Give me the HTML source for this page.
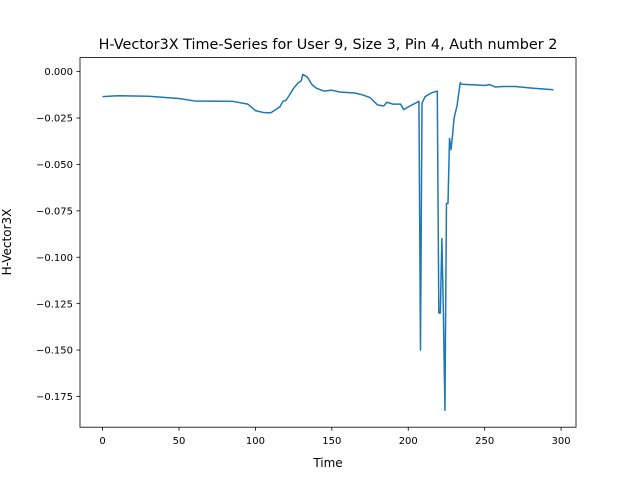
<!DOCTYPE html>
<html><head><meta charset="utf-8"><style>
body{margin:0;background:#fff;}
svg{display:block;font-family:"DejaVu Sans","Liberation Sans",sans-serif;}
</style></head><body>
<svg id="chart" width="640" height="480">
<rect width="640" height="480" fill="#fff"/>
<text x="328" y="49" text-anchor="middle" font-size="14.4">H-Vector3X Time-Series for User 9, Size 3, Pin 4, Auth number 2</text>
<g id="plot"></g>
<text x="328" y="467" text-anchor="middle" font-size="12">Time</text>
<text x="0" y="0" transform="translate(11,242) rotate(-90)" text-anchor="middle" font-size="12">H-Vector3X</text>
</svg>
<script>
const times=[0,10,30,50,60,85,95,100,105,110,116,118,120,122,125,128,130,131,134,137,140,145,150,155,165,170,175,180,184,186,190,195,197,200,207,208,209,211,215,219,220,221,222,223,224,225,226,227,228,229,230,232,234,235,245,250,253,257,262,270,280,295];
const values=[-0.0135,-0.013,-0.0133,-0.0145,-0.0158,-0.016,-0.0175,-0.021,-0.022,-0.0222,-0.019,-0.016,-0.0155,-0.013,-0.009,-0.006,-0.005,-0.0015,-0.003,-0.007,-0.009,-0.0105,-0.01,-0.011,-0.0115,-0.0125,-0.014,-0.018,-0.0185,-0.0165,-0.0175,-0.0175,-0.0205,-0.019,-0.016,-0.15,-0.017,-0.0135,-0.0115,-0.0105,-0.13,-0.13,-0.09,-0.13,-0.1825,-0.071,-0.071,-0.036,-0.042,-0.034,-0.025,-0.018,-0.006,-0.0068,-0.0072,-0.0075,-0.007,-0.0083,-0.008,-0.008,-0.0088,-0.0098];
const xTicks=[0,50,100,150,200,250,300];
const yTicks=[0,-0.025,-0.05,-0.075,-0.1,-0.125,-0.15,-0.175];
const yTickLabels=["0.000","−0.025","−0.050","−0.075","−0.100","−0.125","−0.150","−0.175"];
const L=80,R=576,T=57.6,B=427.2;
const xmin0=Math.min(...times),xmax0=Math.max(...times),ymin0=Math.min(...values),ymax0=Math.max(...values);
const xm=(xmax0-xmin0)*0.05,ym=(ymax0-ymin0)*0.05;
const xmin=xmin0-xm,xmax=xmax0+xm,ymin=ymin0-ym,ymax=ymax0+ym;
const sx=v=>L+(v-xmin)/(xmax-xmin)*(R-L);
const sy=v=>B-(v-ymin)/(ymax-ymin)*(B-T);
const NS="http://www.w3.org/2000/svg";
const g=document.getElementById('plot');
function mk(t,a){const e=document.createElementNS(NS,t);for(const k in a)e.setAttribute(k,a[k]);g.appendChild(e);return e;}
xTicks.forEach((t,i)=>{const x=sx(t);
 const l=mk('line',{x1:x,x2:x,y1:B,y2:B+3.5,stroke:'#000','stroke-width':0.8});
 
 
 const tx=mk('text',{x:x,y:B+17,'text-anchor':'middle','font-size':10});tx.textContent=String(t);
 
 
});
yTicks.forEach((t,i)=>{const y=sy(t);
 const l=mk('line',{x1:L-3.5,x2:L,y1:y,y2:y,stroke:'#000','stroke-width':0.8});
 
 
 const tx=mk('text',{x:L-7,y:y+3.6,'text-anchor':'end','font-size':10});tx.textContent=yTickLabels[i];
 
 
});
const p=mk('polyline',{points:times.map((t,i)=>sx(t)+','+sy(values[i])).join(' '),fill:'none',stroke:'#1f77b4','stroke-width':1.5,'stroke-linejoin':'round'});


const f=mk('rect',{x:L,y:T,width:R-L,height:B-T,fill:'none',stroke:'#000','stroke-width':0.8});


</script>
</body></html>
